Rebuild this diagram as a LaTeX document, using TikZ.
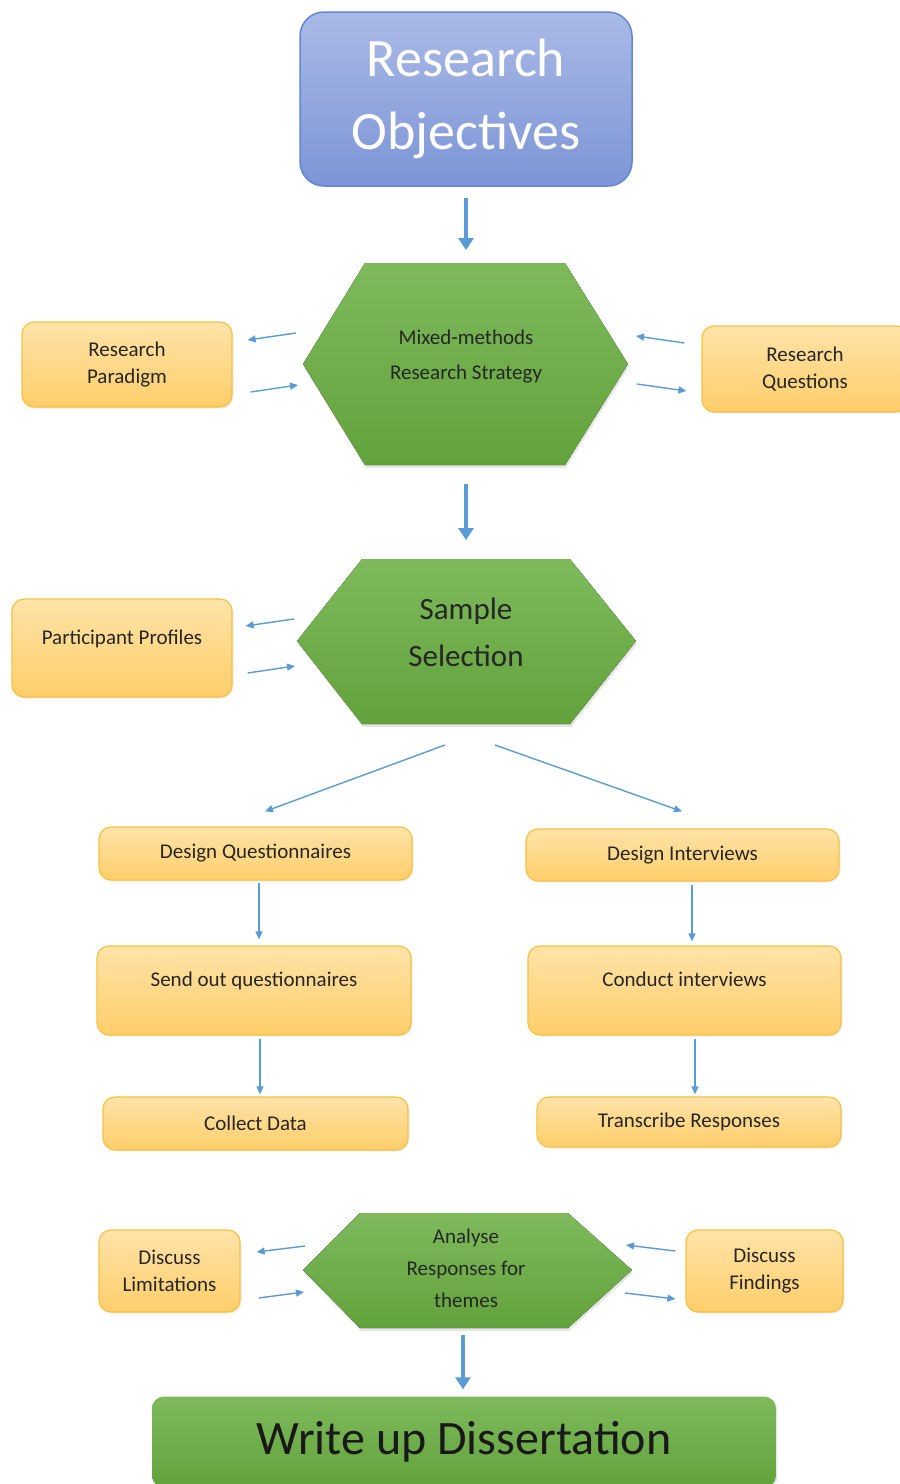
\documentclass[tikz,border=0pt]{standalone}
\usepackage{fontspec}
\setmainfont{Carlito}
\usetikzlibrary{arrows.meta,shadows}

\definecolor{arrowblue}{HTML}{5B9BD5}
\definecolor{boxtop}{HTML}{FFE3A8}
\definecolor{boxbottom}{HTML}{FFCE6A}
\definecolor{boxline}{HTML}{F5C242}
\definecolor{greentop}{HTML}{7EBA5C}
\definecolor{greenbottom}{HTML}{62A23B}
\definecolor{bluetop}{HTML}{AABAE6}
\definecolor{bluebottom}{HTML}{7D95D7}
\definecolor{blueline}{HTML}{6385D8}

\begin{document}
\begin{tikzpicture}[x=1pt,y=-1pt,
    orangebox/.style={draw=boxline, line width=1.2pt, rounded corners=12pt,
        top color=boxtop, bottom color=boxbottom, align=center, text=black!85,
        font=\fontsize{21}{27}\selectfont, inner sep=0pt,
        drop shadow={opacity=0.15, shadow xshift=1.5pt, shadow yshift=-1.5pt}},
    hexfill/.style={top color=greentop, bottom color=greenbottom,
        drop shadow={opacity=0.2, shadow xshift=1pt, shadow yshift=-3pt}},
    hextext/.style={align=center, text=black!85},
    bigarrow/.style={draw=arrowblue, line width=4pt, -{Triangle[length=12pt,width=15pt]}},
    thinarrow/.style={draw=arrowblue, line width=1.4pt, -{Triangle[length=8pt,width=7pt]}}]
    \useasboundingbox (0,0) rectangle (900,1484);

    % Top box
    \node[draw=blueline, line width=1.5pt, rounded corners=24pt, top color=bluetop, bottom color=bluebottom,
        minimum width=332pt, minimum height=174pt, text=white, align=center,
        font=\fontsize{54}{73}\selectfont] (objectives) at (466,99) {Research\\Objectives};

    % Hexagons
    \fill[hexfill] (303,364) -- (365,263) -- (565,263) -- (628,364) -- (565,465) -- (365,465) -- cycle;
    \fill[hexfill] (297,641) -- (362,559) -- (570,559) -- (636,641) -- (570,724) -- (362,724) -- cycle;
    \fill[hexfill] (303,1270) -- (360,1213) -- (568,1213) -- (632,1270) -- (568,1328) -- (360,1328) -- cycle;

    \coordinate (stratN) at (466,263); \coordinate (stratS) at (466,465);
    \coordinate (stratW) at (303,364); \coordinate (stratE) at (628,364);
    \coordinate (selN) at (466,559); \coordinate (selS) at (466,724);
    \coordinate (selW) at (297,641);
    \coordinate (anaS) at (466,1328);
    \coordinate (anaW) at (303,1270); \coordinate (anaE) at (632,1270);

    \node[hextext, font=\fontsize{21}{35}\selectfont] (strategy) at (466,357) {Mixed-methods\\Research Strategy};
    \node[hextext, font=\fontsize{31}{47}\selectfont] (selection) at (466,632) {Sample\\Selection};
    \node[hextext, font=\fontsize{21}{32}\selectfont] (analyse) at (466,1268) {Analyse\\Responses for\\themes};

    % Side boxes
    \node[orangebox, minimum width=210pt, minimum height=85pt] (paradigm) at (127,364.5) {Research\\Paradigm};
    \node[orangebox, minimum width=206pt, minimum height=86pt] (questions) at (805,369) {Research\\Questions};
    \node[orangebox, minimum width=220pt, minimum height=98pt, text depth=21pt] (profiles) at (122,648) {Participant Profiles};

    % Two branches
    \node[orangebox, minimum width=313pt, minimum height=53pt] (designq) at (255.5,853.5) {Design Questionnaires};
    \node[orangebox, minimum width=313pt, minimum height=52pt] (designi) at (682.5,855) {Design Interviews};
    \node[orangebox, minimum width=314pt, minimum height=89pt, text depth=23pt] (sendq) at (254,990.5) {Send out questionnaires};
    \node[orangebox, minimum width=313pt, minimum height=89pt, text depth=23pt] (conducti) at (684.5,990.5) {Conduct interviews};
    \node[orangebox, minimum width=305pt, minimum height=53pt] (collect) at (255.5,1123.5) {Collect Data};
    \node[orangebox, minimum width=304pt, minimum height=50pt] (transcribe) at (689,1122) {Transcribe Responses};

    \node[orangebox, minimum width=141pt, minimum height=82pt] (limits) at (169.5,1271) {Discuss\\Limitations};
    \node[orangebox, minimum width=157pt, minimum height=82pt] (findings) at (764.5,1271) {Discuss\\Findings};

    % Bottom box
    \node[rounded corners=12pt, top color=greentop, bottom color=greenbottom, text=black!90,
        minimum width=624pt, minimum height=91pt, font=\fontsize{48}{58}\selectfont,
        drop shadow={opacity=0.2, shadow xshift=1.5pt, shadow yshift=-1.5pt}] (dissertation) at (464,1442) {Write up Dissertation};

    % Main flow
    \draw[bigarrow, shorten <=11pt, shorten >=13pt] (objectives.south) -- (stratN);
    \draw[bigarrow, shorten <=19pt, shorten >=19pt] (stratS) -- (selN);
    \draw[bigarrow, shorten <=7pt, shorten >=7pt] ([xshift=-3pt]anaS) -- ([xshift=-1pt]dissertation.north);

    % Side arrows
    \draw[thinarrow] ([xshift=-7pt,yshift=31pt]stratW) -- ([xshift=15pt,yshift=24.5pt]paradigm.east);
    \draw[thinarrow] ([xshift=18pt,yshift=-27.5pt]paradigm.east) -- ([xshift=-5pt,yshift=-21pt]stratW);
    \draw[thinarrow] ([xshift=-17pt,yshift=26pt]questions.west) -- ([xshift=8pt,yshift=28pt]stratE);
    \draw[thinarrow] ([xshift=9pt,yshift=-20pt]stratE) -- ([xshift=-15pt,yshift=-22pt]questions.west);
    \draw[thinarrow] ([xshift=-3pt,yshift=22pt]selW) -- ([xshift=13pt,yshift=22pt]profiles.east);
    \draw[thinarrow] ([xshift=15pt,yshift=-25pt]profiles.east) -- ([xshift=-2pt,yshift=-25pt]selW);

    % Branch arrows
    \draw[thinarrow] ([xshift=-21pt,yshift=-21pt]selS) -- ([xshift=9.5pt,yshift=15pt]designq.north);
    \draw[thinarrow] ([xshift=29pt,yshift=-21pt]selS) -- ([xshift=-0.5pt,yshift=17pt]designi.north);
    \draw[thinarrow, shorten <=2pt, shorten >=6pt] ([xshift=3.5pt]designq.south) -- ([xshift=3.5pt]designq.south |- sendq.north);
    \draw[thinarrow, shorten <=3pt, shorten >=4pt] ([xshift=9.5pt]designi.south) -- ([xshift=9.5pt]designi.south |- conducti.north);
    \draw[thinarrow, shorten <=3pt, shorten >=2pt] ([xshift=6pt]sendq.south) -- ([xshift=6pt]sendq.south |- collect.north);
    \draw[thinarrow, shorten <=3pt, shorten >=2pt] ([xshift=10.5pt]conducti.south) -- ([xshift=10.5pt]conducti.south |- transcribe.north);

    % Analysis arrows
    \draw[thinarrow] ([xshift=2pt,yshift=24pt]anaW) -- ([xshift=16pt,yshift=19pt]limits.east);
    \draw[thinarrow] ([xshift=18pt,yshift=-27pt]limits.east) -- ([xshift=1pt,yshift=-22pt]anaW);
    \draw[thinarrow] ([xshift=-10pt,yshift=20pt]findings.west) -- ([xshift=-6pt,yshift=25pt]anaE);
    \draw[thinarrow] ([xshift=-7pt,yshift=-23pt]anaE) -- ([xshift=-10pt,yshift=-28pt]findings.west);
\end{tikzpicture}
\end{document}
